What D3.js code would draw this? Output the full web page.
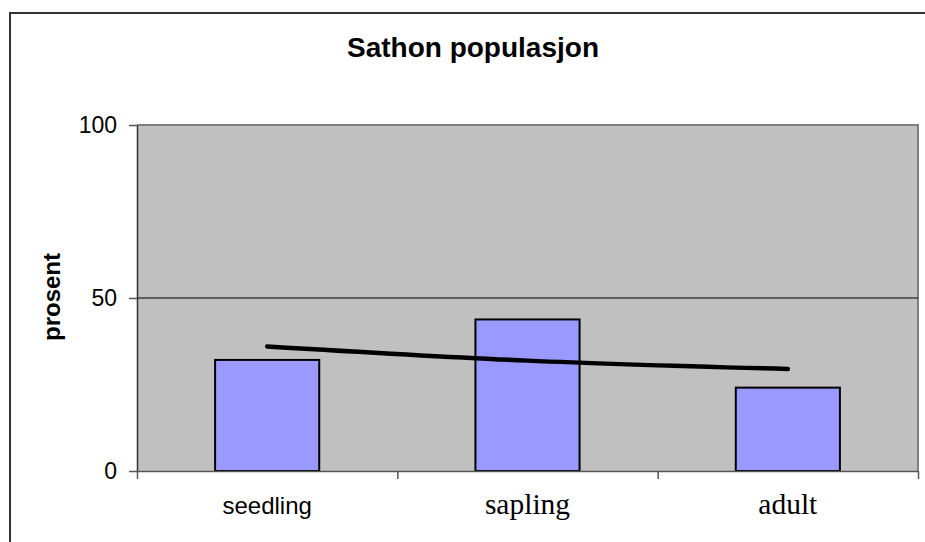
<!DOCTYPE html>
<html>
<head>
<meta charset="utf-8">
<script src="https://cdn.jsdelivr.net/npm/d3@7"></script>
<style>
  body { margin: 0; background: #fff; }
  svg { display: block; }
</style>
</head>
<body>
<div id="chart"></div>
<script>
// data
var categories = ['seedling', 'sapling', 'adult'];
var values = [32.1, 43.8, 24.1];
var trend = [36.0, 31.9, 29.5];   // log trendline, read at each category
var yTicks = [0, 50, 100];

var W = 925, H = 542;
var plot = { left: 137, top: 125, right: 918, bottom: 471 };

var svg = d3.select('#chart').append('svg')
  .attr('width', W)
  .attr('height', H);

// outer chart frame (only left and top are visible)
svg.append('path')
  .attr('d', 'M10,' + H + 'V13H' + W)
  .attr('fill', 'none')
  .attr('stroke', '#333')
  .attr('stroke-width', 2);

var x = d3.scaleBand()
  .domain(categories)
  .range([plot.left, plot.right])
  .paddingInner(0.6)
  .paddingOuter(0.3);

var xEdge = d3.scaleLinear()
  .domain([0, categories.length])
  .range([plot.left, plot.right]);

var y = d3.scaleLinear()
  .domain([0, 100])
  .range([plot.bottom, plot.top]);

// plot area
svg.append('rect')
  .attr('x', plot.left)
  .attr('y', plot.top)
  .attr('width', plot.right - plot.left)
  .attr('height', plot.bottom - plot.top)
  .attr('fill', '#c0c0c0');

svg.append('path')
  .attr('d', 'M' + plot.left + ',' + plot.top + 'H' + plot.right + 'V' + plot.bottom)
  .attr('fill', 'none')
  .attr('stroke', '#808080')
  .attr('stroke-width', 2);

// gridline at 50
svg.selectAll('line.grid')
  .data(yTicks.filter(function(d) { return d > 0 && d < 100; }))
  .enter().append('line')
    .attr('class', 'grid')
    .attr('x1', plot.left).attr('x2', plot.right)
    .attr('y1', function(d) { return y(d); })
    .attr('y2', function(d) { return y(d); })
    .attr('stroke', '#000')
    .attr('stroke-width', 1);

// bars
svg.selectAll('rect.bar')
  .data(values)
  .enter().append('rect')
    .attr('class', 'bar')
    .attr('x', function(d, i) { return x(categories[i]); })
    .attr('y', function(d) { return y(d); })
    .attr('width', x.bandwidth())
    .attr('height', function(d) { return y(0) - y(d); })
    .attr('fill', '#9999ff')
    .attr('stroke', '#000')
    .attr('stroke-width', 2);

// trendline
var line = d3.line()
  .x(function(d, i) { return x(categories[i]) + x.bandwidth() / 2; })
  .y(function(d) { return y(d); })
  .curve(d3.curveNatural);

svg.append('path')
  .datum(trend)
  .attr('d', line)
  .attr('fill', 'none')
  .attr('stroke', '#000')
  .attr('stroke-width', 4.5)
  .attr('stroke-linecap', 'round');

// y axis
var yAxis = svg.append('g')
  .attr('transform', 'translate(' + plot.left + ',0)')
  .call(d3.axisLeft(y).tickValues(yTicks).tickSize(8).tickPadding(12).tickSizeOuter(0));
yAxis.select('.domain').attr('stroke', '#333').attr('stroke-width', 1.5);
yAxis.selectAll('.tick line').attr('stroke', '#555').attr('stroke-width', 1.5);
yAxis.selectAll('.tick text')
  .attr('font-family', 'Liberation Sans, Arial, sans-serif')
  .attr('font-size', 23)
  .attr('fill', '#000');

// x axis (ticks at category boundaries)
var xAxis = svg.append('g')
  .attr('transform', 'translate(0,' + plot.bottom + ')')
  .call(d3.axisBottom(xEdge).tickValues(d3.range(categories.length + 1))
    .tickSize(8).tickSizeOuter(0).tickFormat(''));
xAxis.select('.domain').attr('stroke', '#555').attr('stroke-width', 1.5);
xAxis.selectAll('.tick line').attr('stroke', '#555').attr('stroke-width', 1.5);

// category labels (first one in sans, others in serif as in the original)
var labelFont = [
  { family: 'Liberation Sans, Arial, sans-serif', size: 24 },
  { family: 'Liberation Serif, Times New Roman, serif', size: 29.5 },
  { family: 'Liberation Serif, Times New Roman, serif', size: 29.5 }
];
svg.selectAll('text.cat')
  .data(categories)
  .enter().append('text')
    .attr('class', 'cat')
    .attr('x', function(d) { return x(d) + x.bandwidth() / 2; })
    .attr('y', 514)
    .attr('text-anchor', 'middle')
    .attr('font-family', function(d, i) { return labelFont[i].family; })
    .attr('font-size', function(d, i) { return labelFont[i].size; })
    .text(function(d) { return d; });

// title
svg.append('text')
  .attr('x', 473)
  .attr('y', 57)
  .attr('text-anchor', 'middle')
  .attr('font-family', 'Liberation Sans, Arial, sans-serif')
  .attr('font-weight', 'bold')
  .attr('font-size', 28)
  .text('Sathon populasjon');

// y axis title
svg.append('text')
  .attr('transform', 'translate(60,297) rotate(-90)')
  .attr('text-anchor', 'middle')
  .attr('font-family', 'Liberation Sans, Arial, sans-serif')
  .attr('font-weight', 'bold')
  .attr('font-size', 24)
  .text('prosent');
</script>
</body>
</html>
